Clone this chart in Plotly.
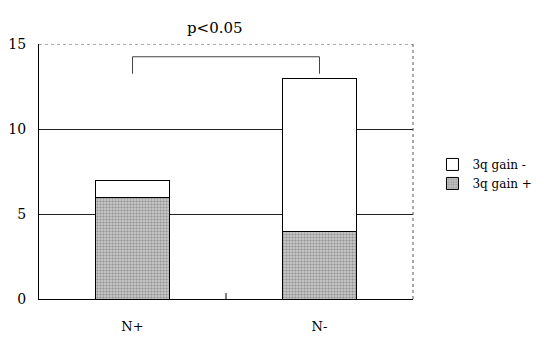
import plotly.graph_objects as go

categories = ["N+", "N-"]
gain_pos = [6, 4]
gain_neg = [1, 9]
y_ticks = [0, 5, 10, 15]
p_label = "p<0.05"

font_family = "DejaVu Serif"

fig = go.Figure()
fig.add_trace(go.Bar(
    x=categories, y=gain_pos, name="3q gain +", width=0.4,
    marker=dict(color="#b8b8b8", line=dict(color="black", width=1),
                pattern=dict(shape=".", fgcolor="#5a5a5a", bgcolor="#c6c6c6",
                             size=3, solidity=0.4)),
))
fig.add_trace(go.Bar(
    x=categories, y=gain_neg, name="3q gain -", width=0.4,
    marker=dict(color="white", line=dict(color="black", width=1)),
))

# bracket
top = 14.25
low = 13.25
fig.add_shape(type="line", x0=0, x1=0, y0=low, y1=top, xref="x", yref="y",
              line=dict(color="#444", width=1))
fig.add_shape(type="line", x0=0, x1=1, y0=top, y1=top, xref="x", yref="y",
              line=dict(color="#444", width=1))
fig.add_shape(type="line", x0=1, x1=1, y0=low, y1=top, xref="x", yref="y",
              line=dict(color="#444", width=1))
fig.add_annotation(x=0.47, y=1.0, xref="paper", yref="paper", yshift=16,
                   yanchor="middle", text=p_label, showarrow=False,
                   font=dict(family=font_family, size=15, color="black"))

# dotted top and right borders
fig.add_shape(type="line", x0=0, x1=1, y0=15, y1=15, xref="paper", yref="y",
              line=dict(color="#555", width=1, dash="dot"))
fig.add_shape(type="line", x0=1, x1=1, y0=0, y1=15, xref="paper", yref="y",
              line=dict(color="#555", width=1, dash="dot"))
# category divider tick
fig.add_shape(type="line", x0=0.5, x1=0.5, y0=0, y1=0.35, xref="x", yref="y",
              line=dict(color="black", width=1))

fig.update_layout(
    barmode="stack",
    width=544, height=337,
    margin=dict(l=39, r=131, t=44, b=38, autoexpand=False),
    paper_bgcolor="white", plot_bgcolor="white",
    font=dict(family=font_family, size=13, color="black"),
    showlegend=True,
    legend=dict(xref="container", yref="container", x=0.795, y=0.555,
                xanchor="left", yanchor="top", tracegroupgap=0,
                traceorder="reversed", font=dict(family=font_family, size=12),
                bgcolor="rgba(0,0,0,0)", itemwidth=30),
    xaxis=dict(range=[-0.5, 1.5], showline=True, linecolor="black", linewidth=1,
               showgrid=False, ticks="", ticklabelstandoff=15, automargin=False,
               tickfont=dict(family=font_family, size=13)),
    yaxis=dict(range=[0, 15], tickvals=y_ticks, showline=True, linecolor="black",
               linewidth=1, showgrid=True, gridcolor="#222", gridwidth=1,
               zeroline=False, ticks="", ticklabelstandoff=9, automargin=False,
               tickfont=dict(family=font_family, size=14)),
)

fig.write_html("out.html")
